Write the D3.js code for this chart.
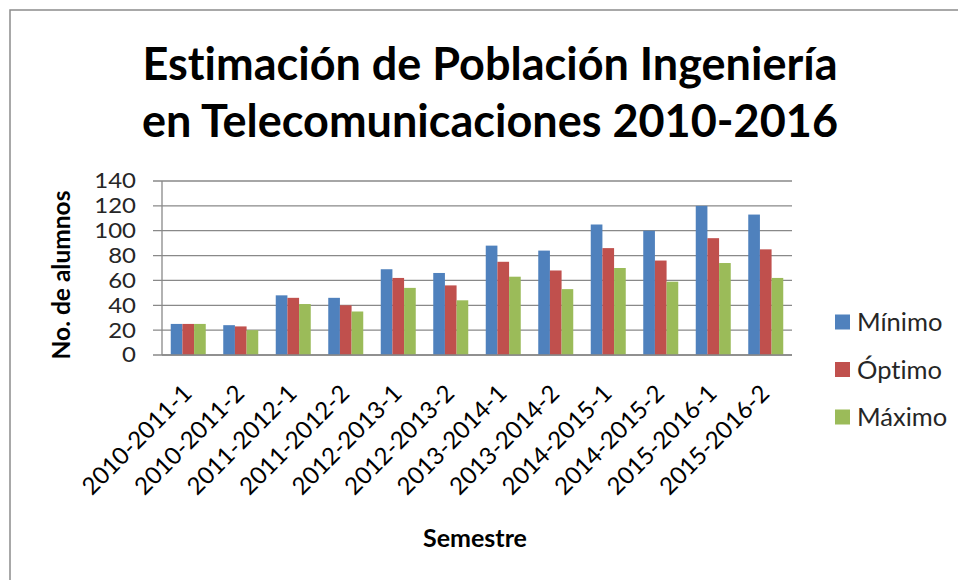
<!DOCTYPE html>
<html>
<head>
<meta charset="utf-8">
<script src="https://cdn.jsdelivr.net/npm/d3@7"></script>
<style>
  html, body { margin: 0; padding: 0; background: #fff; }
  svg { display: block; }
  text { font-family: Lato, "Open Sans", sans-serif; font-variant-ligatures: none; }
</style>
</head>
<body>
<svg id="chart" width="958" height="580"></svg>
<script>
const categories = ["2010-2011-1","2010-2011-2","2011-2012-1","2011-2012-2","2012-2013-1","2012-2013-2","2013-2014-1","2013-2014-2","2014-2015-1","2014-2015-2","2015-2016-1","2015-2016-2"];
const seriesNames = ["Mínimo","Óptimo","Máximo"];
const minimo = [25, 24, 48, 46, 69, 66, 88, 84, 105, 100, 120, 113];
const optimo = [25, 23, 46, 40, 62, 56, 75, 68, 86, 76, 94, 85];
const maximo = [25, 20, 41, 35, 54, 44, 63, 53, 70, 59, 74, 62];
const yTicks = [0, 20, 40, 60, 80, 100, 120, 140];
const titleLines = ["Estimación de Población Ingeniería", "en Telecomunicaciones 2010-2016"];
const colors = ["#4F81BD", "#C0504D", "#9BBB59"];

const seriesValues = [minimo, optimo, maximo];
const svg = d3.select("#chart");

// outer frame
svg.append("rect").attr("x", 10).attr("y", 10).attr("width", 1000).attr("height", 1000)
  .attr("fill", "none").attr("stroke", "#8c8c8c").attr("stroke-width", 1.5);

const plot = {left: 162, right: 792, top: 181, bottom: 355};

const x0 = d3.scaleBand().domain(categories).range([plot.left, plot.right]).paddingInner(0).paddingOuter(0);
const x1 = d3.scaleBand().domain(seriesNames)
  .range([0, x0.bandwidth()]).paddingInner(0).paddingOuter(0.75);
const y = d3.scaleLinear().domain([0, 140]).range([plot.bottom, plot.top]);

// gridlines (with tick stubs)
svg.append("g").selectAll("line").data(yTicks).join("line")
  .attr("x1", plot.left - 9).attr("x2", plot.right)
  .attr("y1", d => y(d)).attr("y2", d => y(d))
  .attr("stroke", "#898989").attr("stroke-width", 1.3);

// y axis line
svg.append("line").attr("x1", plot.left).attr("x2", plot.left)
  .attr("y1", plot.top).attr("y2", plot.bottom)
  .attr("stroke", "#898989").attr("stroke-width", 1.3);

// y tick labels (slightly widened glyphs, like the reference font)
const tickLabels = svg.append("g").selectAll("text").data(yTicks).join("text")
  .attr("x", 136).attr("y", d => y(d)).attr("dy", "0.36em")
  .attr("text-anchor", "end").attr("font-size", 20.5).attr("fill", "#262626")
  .text(d => d);
tickLabels.each(function() {
  const len = this.getComputedTextLength();
  d3.select(this).attr("textLength", len * 1.17).attr("lengthAdjust", "spacingAndGlyphs");
});

// bars
const groups = svg.append("g").selectAll("g").data(categories).join("g")
  .attr("transform", d => `translate(${x0(d)},0)`);
groups.selectAll("rect").data((c, i) => seriesNames.map((s, j) => ({s, v: seriesValues[j][i], j})))
  .join("rect")
  .attr("x", d => x1(d.s)).attr("width", x1.bandwidth())
  .attr("y", d => y(d.v)).attr("height", d => y(0) - y(d.v))
  .attr("fill", d => colors[d.j]);

// baseline
svg.append("line").attr("x1", plot.left).attr("x2", plot.right)
  .attr("y1", y(0)).attr("y2", y(0)).attr("stroke", "#898989").attr("stroke-width", 1.3);

// x labels rotated
svg.append("g").selectAll("text").data(categories).join("text")
  .attr("transform", d => `translate(${x0(d) + x0.bandwidth() / 2 + 5},${plot.bottom + 40}) rotate(-45)`)
  .attr("text-anchor", "end").attr("font-size", 24).attr("fill", "#000")
  .text(d => d);

// title
svg.append("g").selectAll("text").data(titleLines).join("text")
  .attr("x", 490).attr("y", (d, i) => 80 + i * 57)
  .attr("text-anchor", "middle").attr("font-size", 45).attr("font-weight", "bold").attr("fill", "#000")
  .text(d => d);

// axis titles
svg.append("text").attr("transform", "translate(70,275) rotate(-90)")
  .attr("text-anchor", "middle").attr("font-size", 24.5).attr("font-weight", "bold").text("No. de alumnos");
svg.append("text").attr("x", 475).attr("y", 547)
  .attr("text-anchor", "middle").attr("font-size", 25).attr("font-weight", "bold").text("Semestre");

// legend
const legend = svg.append("g").selectAll("g").data(seriesNames).join("g")
  .attr("transform", (d, i) => `translate(835,${322 + i * 47.5})`);
legend.append("rect").attr("x", 0).attr("y", -7.5).attr("width", 15).attr("height", 15)
  .attr("fill", (d, i) => colors[i]);
legend.append("text").attr("x", 22).attr("y", 0).attr("dy", "0.36em")
  .attr("font-size", 25.5).attr("fill", "#262626").text(d => d);
</script>
</body>
</html>
